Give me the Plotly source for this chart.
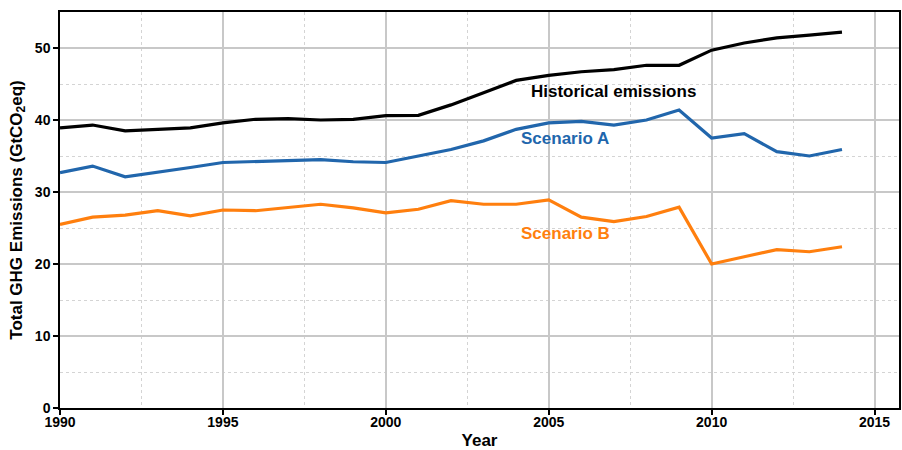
import plotly.graph_objects as go

years = list(range(1990, 2015))

historical = [38.9, 39.3, 38.5, 38.7, 38.9, 39.6, 40.1, 40.2, 40.0, 40.1,
              40.6, 40.65, 42.1, 43.8, 45.5, 46.2, 46.7, 47.0, 47.6, 47.6,
              49.7, 50.7, 51.4, 51.8, 52.2]
scenario_a = [32.7, 33.6, 32.1, 32.7, 33.4, 34.1, 34.2, 34.4, 34.5, 34.2,
              34.1, 35.0, 35.9, 37.1, 38.7, 39.6, 39.8, 39.3, 40.0, 41.4,
              37.5, 38.1, 35.6, 35.0, 35.9]
scenario_b = [25.5, 26.5, 26.8, 27.4, 26.7, 27.5, 27.4, 27.8, 28.3, 27.8,
              27.1, 27.6, 28.8, 28.3, 28.3, 28.9, 26.5, 25.9, 26.6, 27.9,
              20.0, 21.0, 22.0, 21.7, 22.4]

series_names = ["Historical emissions", "Scenario A", "Scenario B"]
series_colors = ["#000000", "#2166ac", "#ff7f0e"]
label_pos = [(2007.0, 44.0), (2005.5, 37.4), (2005.5, 24.2)]

font_family = "Liberation Sans, Arial, sans-serif"

fig = go.Figure()
for name, vals, color in zip(series_names, [historical, scenario_a, scenario_b], series_colors):
    fig.add_trace(go.Scatter(x=years, y=vals, mode="lines", name=name,
                             line=dict(color=color, width=3.2)))

for name, color, (lx, ly) in zip(series_names, series_colors, label_pos):
    fig.add_annotation(x=lx, y=ly, text=name, showarrow=False,
                       font=dict(family=font_family, size=17, color=color, weight="bold"))

fig.update_layout(
    width=902, height=450,
    margin=dict(l=60, r=1, t=12, b=42),
    plot_bgcolor="white", paper_bgcolor="white",
    showlegend=False,
    font=dict(family=font_family, size=14, color="#000000"),
)

axis_common = dict(
    tickfont=dict(size=14, family=font_family, weight="bold", color="#000000"),
    showline=True, linecolor="black", linewidth=1.5, mirror=True,
    ticks="outside", ticklen=5, tickcolor="black", tickwidth=1.5,
    showgrid=True, gridcolor="#c8c8c8", gridwidth=1.5,
    zeroline=False,
)

fig.update_xaxes(
    range=[1990, 2015.75], tickvals=[1990, 1995, 2000, 2005, 2010, 2015],
    ticklabelstandoff=-5,
    title=dict(text="Year", font=dict(size=17, family=font_family, weight="bold"), standoff=8),
    minor=dict(dtick=2.5, tick0=1990, showgrid=True, gridcolor="#d4d4d4",
               griddash="3px,3px", gridwidth=1, ticks=""),
    **axis_common,
)
fig.update_yaxes(
    range=[0, 55], tickvals=[0, 10, 20, 30, 40, 50],
    title=dict(text="Total GHG Emissions (GtCO<sub>2</sub>eq)",
               font=dict(size=17, family=font_family, weight="bold"), standoff=8),
    minor=dict(dtick=5, tick0=0, showgrid=True, gridcolor="#d4d4d4",
               griddash="3px,3px", gridwidth=1, ticks=""),
    **axis_common,
)

fig.write_html("out.html")
